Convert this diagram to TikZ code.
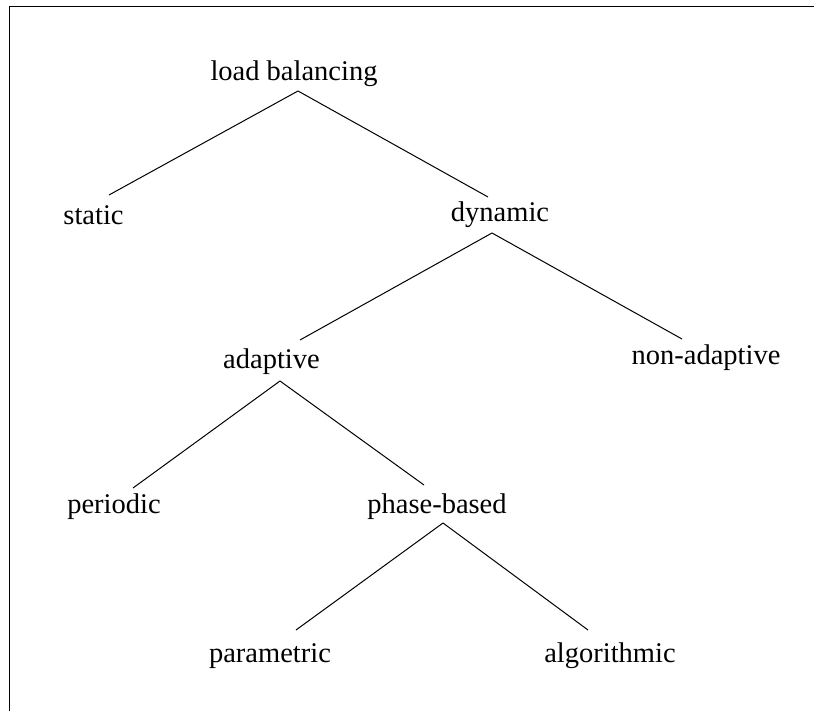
\documentclass[tikz,border=0pt]{standalone}
\usepackage{fontspec}
\setmainfont{Liberation Serif}
\begin{document}
\begin{tikzpicture}[x=1pt,y=-1pt,
  term/.style={anchor=base,inner sep=0pt,font=\fontsize{28.5}{34}\selectfont},
  branch/.style={line width=1pt},
  frameline/.style={line width=1.3pt}]
\useasboundingbox (0,0) rectangle (814,711);
% open frame: left and top edges only
\coordinate (fbl) at (9.5,711);
\coordinate (ftl) at (9.5,6.5);
\coordinate (ftr) at (814,6.5);
\draw[frameline] (fbl) -- (ftl) -- (ftr);

% tree nodes (positioned on their baselines)
\node[term] (lb)          at (294,80.5)  {load balancing};
\node[term] (static)      at (93.5,225)  {static};
\node[term] (dynamic)     at (500,221.5) {dynamic};
\node[term] (adaptive)    at (271.5,368) {adaptive};
\node[term] (nonadaptive) at (706,364.5) {non-adaptive};
\node[term] (periodic)    at (114,513)   {periodic};
\node[term] (phasebased)  at (437,513)   {phase-based};
\node[term] (parametric)  at (270,662)   {parametric};
\node[term] (algorithmic) at (610,662)   {algorithmic};

% branches
\draw[branch] ([xshift=4pt,yshift=-10.5pt]lb.base) -- ([xshift=15.5pt,yshift=30pt]static.base);
\draw[branch] ([xshift=4pt,yshift=-10.5pt]lb.base) -- ([xshift=-12pt,yshift=24.5pt]dynamic.base);
\draw[branch] ([xshift=-8pt,yshift=-11.5pt]dynamic.base) -- ([xshift=28.5pt,yshift=28pt]adaptive.base);
\draw[branch] ([xshift=-8pt,yshift=-11.5pt]dynamic.base) -- ([xshift=-24pt,yshift=25.5pt]nonadaptive.base);
\draw[branch] ([xshift=8.5pt,yshift=-13pt]adaptive.base) -- ([xshift=19pt,yshift=25pt]periodic.base);
\draw[branch] ([xshift=8.5pt,yshift=-13pt]adaptive.base) -- ([xshift=-13pt,yshift=28pt]phasebased.base);
\draw[branch] ([xshift=6pt,yshift=-10pt]phasebased.base) -- ([xshift=26pt,yshift=32pt]parametric.base);
\draw[branch] ([xshift=6pt,yshift=-10pt]phasebased.base) -- ([xshift=-22pt,yshift=32pt]algorithmic.base);
\end{tikzpicture}
\end{document}
